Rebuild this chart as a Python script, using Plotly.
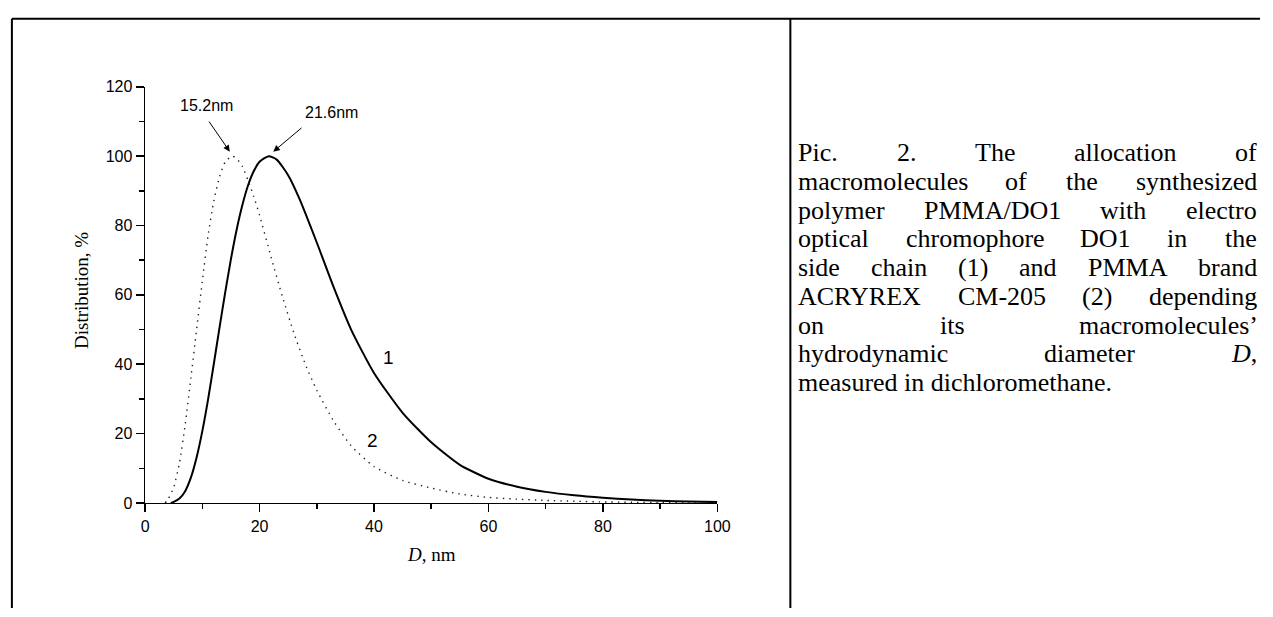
import plotly.graph_objects as go

# ---------------- data ----------------
d_solid = [4.5, 5, 6, 7, 8, 9, 10, 11, 12, 13, 14, 15, 16, 17, 18, 19, 20, 21.6, 23, 25, 27, 30,
           33, 36, 40, 45, 50, 55, 60, 65, 70, 75, 80, 85, 90, 95, 100]
dist_solid = [0, 0.3, 1.3, 3.4, 7.3, 13.1, 20.7, 29.8, 40, 50.5, 60.7, 70.3, 78.8, 85.9, 91.6, 95.7,
              98.4, 100, 99, 94.5, 87.6, 75.1, 62, 50, 37.5, 26, 17.5, 11, 7, 4.7, 3.2, 2.2, 1.5,
              1.0, 0.65, 0.4, 0.25]

d_dotted = [3.5, 4, 5, 6, 7, 8, 9, 10, 11, 12, 13, 14, 15.2, 16, 17, 18, 19, 20, 22, 24, 26, 28, 30,
            33, 36, 40, 45, 50, 55, 60, 65, 70, 75, 80, 85, 90, 95, 100]
dist_dotted = [0, 1, 4.5, 11.5, 22.5, 36, 50, 64, 77, 87, 94, 98.3, 100, 99.3, 97, 93, 88.3, 83, 71,
               59.5, 49, 40, 32.5, 23.5, 16.5, 10.5, 6.5, 4.3, 2.6, 1.6, 1.1, 0.75, 0.5, 0.3, 0.2,
               0.1, 0.05, 0.02]

x_ticks = [0, 20, 40, 60, 80, 100]
y_ticks = [0, 20, 40, 60, 80, 100, 120]
peak_labels = ["15.2nm", "21.6nm"]
curve_labels = ["1", "2"]
x_title = "<i>D</i>, nm"
y_title = "Distribution, %"
caption_lines = [
    ["Pic.", "2.", "The", "allocation", "of"],
    ["macromolecules", "of", "the", "synthesized"],
    ["polymer", "PMMA/DO1", "with", "electro"],
    ["optical", "chromophore", "DO1", "in", "the"],
    ["side", "chain", "(1)", "and", "PMMA", "brand"],
    ["ACRYREX", "CM-205", "(2)", "depending"],
    ["on", "its", "macromolecules’"],
    ["hydrodynamic", "diameter", "<i>D</i>,"],
    ["measured in dichloromethane."],
]

# ---------------- layout helpers ----------------
W, H = 1273, 617
SERIF = "Liberation Serif"
SANS = "Liberation Sans"

def px(x):
    return x / W

def py(y):
    return 1 - y / H

# Times / Liberation Serif advance widths (em)
TW = {' ': .25, '.': .25, ',': .25, '(': .333, ')': .333, '-': .333, '/': .278, '’': .333}
for c in "0123456789":
    TW[c] = .5
TW.update(dict(A=.722, B=.667, C=.667, D=.722, E=.611, F=.556, G=.722, H=.722, I=.333, J=.389,
               K=.722, L=.611, M=.889, N=.722, O=.722, P=.556, Q=.722, R=.667, S=.556, T=.611,
               U=.722, V=.722, W=.944, X=.722, Y=.722, Z=.611))
TW.update(dict(a=.444, b=.5, c=.444, d=.5, e=.444, f=.333, g=.5, h=.5, i=.278, j=.278, k=.5,
               l=.278, m=.778, n=.5, o=.5, p=.5, q=.5, r=.333, s=.389, t=.278, u=.5, v=.5, w=.722,
               x=.5, y=.5, z=.444))

def text_width(s, size):
    s = s.replace("<i>", "").replace("</i>", "")
    return sum(TW.get(ch, .5) for ch in s) * size

fig = go.Figure()
fig.add_trace(go.Scatter(x=d_solid, y=dist_solid, mode="lines", showlegend=False,
                         line=dict(color="black", width=2, shape="spline", smoothing=0.6)))
fig.add_trace(go.Scatter(x=d_dotted, y=dist_dotted, mode="lines", showlegend=False,
                         line=dict(color="#222222", width=1.4, dash="1.4px,5px", shape="spline",
                                   smoothing=0.6)))

axis_common = dict(showline=True, linecolor="black", linewidth=1.5, ticks="outside", ticklen=8,
                   tickwidth=1.5, tickcolor="black", showgrid=False, zeroline=False,
                   tickfont=dict(family=SANS, size=16, color="black"), fixedrange=True)
minor_common = dict(dtick=10, tick0=0, ticks="outside", ticklen=5, tickwidth=1.5,
                    tickcolor="black", showgrid=False)

fig.update_layout(
    width=W, height=H, margin=dict(l=0, r=0, t=0, b=0),
    paper_bgcolor="white", plot_bgcolor="white",
    xaxis=dict(domain=[px(143), px(723)], range=[0, 100], tickvals=x_ticks,
               minor=minor_common, **axis_common),
    yaxis=dict(domain=[py(509), py(81)], range=[0, 120], tickvals=y_ticks,
               minor=minor_common, **axis_common),
)

ann = []
# axis titles
ann.append(dict(text=x_title, xref="paper", yref="paper", x=px(433), y=py(562), showarrow=False,
                font=dict(family=SERIF, size=19, color="black"), xanchor="center", yanchor="middle"))
ann.append(dict(text=y_title, xref="paper", yref="paper", x=px(78), y=py(290), showarrow=False,
                textangle=-90, font=dict(family=SERIF, size=19, color="black"),
                xanchor="center", yanchor="middle"))
# peak labels with arrows
ann.append(dict(text=peak_labels[0], x=10.7, y=114.7, showarrow=False,
                font=dict(family=SANS, size=16, color="black")))
ann.append(dict(text=peak_labels[1], x=32.6, y=112.7, showarrow=False,
                font=dict(family=SANS, size=16, color="black")))
ann.append(dict(text="", x=14.8, y=101.3, ax=11.0, ay=110.4, axref="x", ayref="y",
                showarrow=True, arrowhead=2, arrowsize=1.3, arrowwidth=1, arrowcolor="black"))
ann.append(dict(text="", x=22.4, y=101.3, ax=27.6, ay=108.5, axref="x", ayref="y",
                showarrow=True, arrowhead=2, arrowsize=1.3, arrowwidth=1, arrowcolor="black"))
# curve numbers
ann.append(dict(text=curve_labels[0], x=42.6, y=42, showarrow=False,
                font=dict(family=SANS, size=19, color="black")))
ann.append(dict(text=curve_labels[1], x=39.7, y=18, showarrow=False,
                font=dict(family=SANS, size=19, color="black")))

# caption (justified text)
CAP_SIZE = 26
L, R = 803, 1267
y0, pitch = 149, 29.5
for i, words in enumerate(caption_lines):
    yc = y0 + i * pitch
    if len(words) == 1 or i == len(caption_lines) - 1:
        ann.append(dict(text=" ".join(words), xref="paper", yref="paper", x=px(L), y=py(yc),
                        xanchor="left", yanchor="middle", showarrow=False,
                        font=dict(family=SERIF, size=CAP_SIZE, color="black")))
        continue
    widths = [text_width(w, CAP_SIZE) for w in words]
    gap = (R - L - sum(widths)) / (len(words) - 1)
    xpos = L
    for w, wd in zip(words, widths):
        ann.append(dict(text=w, xref="paper", yref="paper", x=px(xpos), y=py(yc),
                        xanchor="left", yanchor="middle", showarrow=False,
                        font=dict(family=SERIF, size=CAP_SIZE, color="black")))
        xpos += wd + gap

fig.update_layout(annotations=ann)

# table borders
line_style = dict(color="black", width=2)
fig.add_shape(type="line", xref="paper", yref="paper", x0=px(8), x1=1, y0=py(11), y1=py(11), line=line_style)
fig.add_shape(type="line", xref="paper", yref="paper", x0=px(8), x1=px(8), y0=py(11), y1=0, line=line_style)
fig.add_shape(type="line", xref="paper", yref="paper", x0=px(797), x1=px(797), y0=py(11), y1=0, line=line_style)

fig.write_html("out.html", config={"displayModeBar": False, "staticPlot": True},
               post_script="document.body.style.margin='0';document.body.style.overflow='hidden';")
